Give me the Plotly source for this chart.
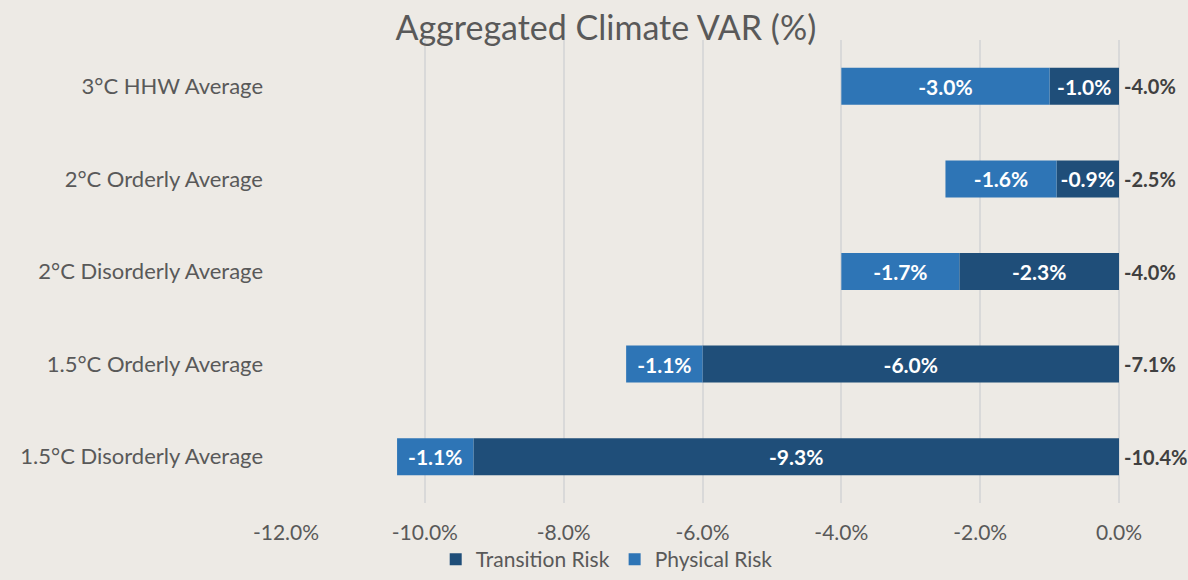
import plotly.graph_objects as go

categories = ["3°C HHW Average", "2°C Orderly Average", "2°C Disorderly Average",
              "1.5°C Orderly Average", "1.5°C Disorderly Average"]
transition = [-1.0, -0.9, -2.3, -6.0, -9.3]
physical = [-3.0, -1.6, -1.7, -1.1, -1.1]
totals = [round(t + p, 1) for t, p in zip(transition, physical)]
x_ticks = [-12, -10, -8, -6, -4, -2, 0]

FONT = "Lato, Calibri, Carlito, sans-serif"
BG = "#EDEAE5"

fig = go.Figure()
fig.add_trace(go.Bar(
    y=categories, x=transition, orientation="h", name="Transition Risk",
    marker=dict(color="#1F4E79", line=dict(width=0)),
    text=[f"{v:.1f}%" for v in transition], textposition="inside",
    insidetextanchor="middle",
    textfont=dict(family=FONT, size=21, color="white", weight="bold"),
))
fig.add_trace(go.Bar(
    y=categories, x=physical, orientation="h", name="Physical Risk",
    marker=dict(color="#2E75B6", line=dict(width=0)),
    text=[f"{v:.1f}%" for v in physical], textposition="inside",
    insidetextanchor="middle",
    textfont=dict(family=FONT, size=21, color="white", weight="bold"),
))

for cat, tot in zip(categories, totals):
    fig.add_annotation(
        x=0, y=cat, xref="x", yref="y", text=f"{tot:.1f}%", showarrow=False,
        xanchor="left", yanchor="middle", xshift=3,
        font=dict(family=FONT, size=20, color="#404040", weight="bold"),
    )

fig.update_layout(
    barmode="relative",
    bargap=0.6,
    width=1188, height=580,
    paper_bgcolor=BG, plot_bgcolor=BG,
    margin=dict(l=286, r=69, t=40, b=77, autoexpand=False),
    title=dict(text="Aggregated Climate VAR (%)", x=0.51, xanchor="center",
               y=0.952, yanchor="middle",
               font=dict(family=FONT, size=34, color="#595959")),
    font=dict(family=FONT, color="#595959"),
    legend=dict(orientation="h", x=0.385, xanchor="center",
                yref="container", y=0.0, yanchor="bottom",
                font=dict(family=FONT, size=21, color="#595959"),
                bgcolor="rgba(0,0,0,0)", traceorder="normal"),
    uniformtext=dict(mode=False),
)
fig.update_xaxes(
    range=[-12, 0], tickvals=x_ticks,
    ticktext=[f"{v:.1f}%" for v in x_ticks],
    showgrid=True, gridcolor="#D9D9D9", gridwidth=2,
    zeroline=True, zerolinecolor="#D9D9D9", zerolinewidth=2,
    tickfont=dict(family=FONT, size=21, color="#595959"),
    ticklabelstandoff=15, showline=False, automargin=False,
)
fig.update_yaxes(
    autorange="reversed", showgrid=False,
    tickfont=dict(family=FONT, size=22, color="#595959"),
    ticklabelstandoff=22, showline=False, automargin=False,
)

fig.write_html(
    "out.html",
    config={"displayModeBar": False},
    post_script="document.body.style.margin='0';document.body.style.background='%s';" % BG,
)
